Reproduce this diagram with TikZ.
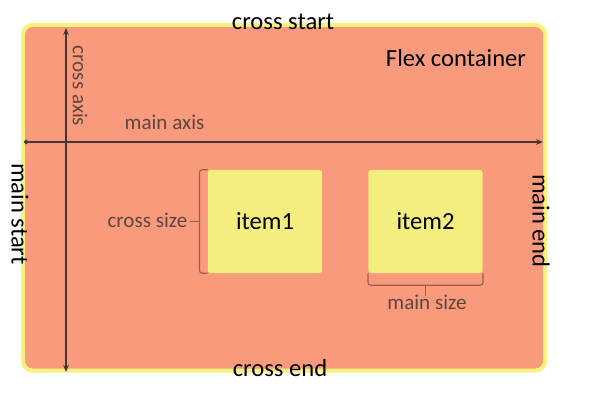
\documentclass[tikz,border=0pt]{standalone}
\usepackage{fontspec}
\setmainfont{Carlito}
\usetikzlibrary{arrows.meta,positioning}
\definecolor{boxsalmon}{HTML}{F99A7C}
\definecolor{rimyellow}{HTML}{F7F27E}
\definecolor{itemyellow}{HTML}{F3EE7D}
\definecolor{axisgray}{HTML}{433735}
\definecolor{notegray}{HTML}{5E4740}
\definecolor{bracebrown}{HTML}{9C5F4E}

\begin{document}
\begin{tikzpicture}[
  x=0.025cm, y=-0.025cm,
  >={Stealth[length=5pt, width=4pt]},
  container/.style={rectangle, draw=rimyellow, fill=boxsalmon, line width=2.8pt, rounded corners=7pt, minimum width=13.05cm, minimum height=8.64cm},
  item/.style={rectangle, fill=itemyellow, rounded corners=2pt, minimum width=2.86cm, minimum height=2.575cm, font=\fontsize{17.5pt}{21pt}\selectfont},
  axis/.style={draw=axisgray, line width=1.1pt},
  brace/.style={draw=bracebrown, line width=0.8pt, rounded corners=2pt},
  edgelabel/.style={font=\fontsize{17.5pt}{21pt}\selectfont, text=black},
  note/.style={font=\fontsize{15pt}{18pt}\selectfont, text=notegray, inner sep=1pt}
]
  \useasboundingbox (0,0) rectangle (600,411);
  \node[container] (flex) at (284,197.75) {};
  \node[item] (item1) at (265,221.5) {item1};
  \node[item] (item2) at (425.5,221.5) {item2};

  % axes
  \coordinate (mstart) at (24,142);
  \coordinate (mend) at (543,142);
  \coordinate (cstart) at (66,28);
  \coordinate (cend) at (66,372);
  \draw[axis, {Circle[length=3pt]}->] (mstart) -- (mend);
  \draw[axis, <->] (cstart) -- (cend);

  \node[edgelabel, anchor=base] (crossstart) at (283,30) {cross start};
  \node[edgelabel, anchor=base] (crossend) at (280,377) {cross end};
  \node[edgelabel, rotate=-90] (mainstart) at (20,214) {main start};
  \node[edgelabel, rotate=-90] (mainend) at (541,221) {main end};
  \node[edgelabel, anchor=base east] (flexlabel) at (531,67) {Flex container};
  \node[note, anchor=base west] (mainaxis) at (123,130) {main axis};
  \node[note, rotate=-90] (crossaxis) at (80,86) {cross axis};

  % size brackets
  \draw[brace] (item1.north west) -- ++(-8,0) |- (item1.south west);
  \draw[brace] (item1.west) ++(-8,0) -- ++(-10,0);
  \node[note, anchor=base east] (crosssize) at (189,228) {cross size};
  \draw[brace] (item2.south west) -- ++(0,12) -| (item2.south east);
  \draw[brace] (item2.south) ++(0,12) -- ++(0,11);
  \node[note, anchor=base] (mainsize) at (427,310) {main size};
\end{tikzpicture}
\end{document}
